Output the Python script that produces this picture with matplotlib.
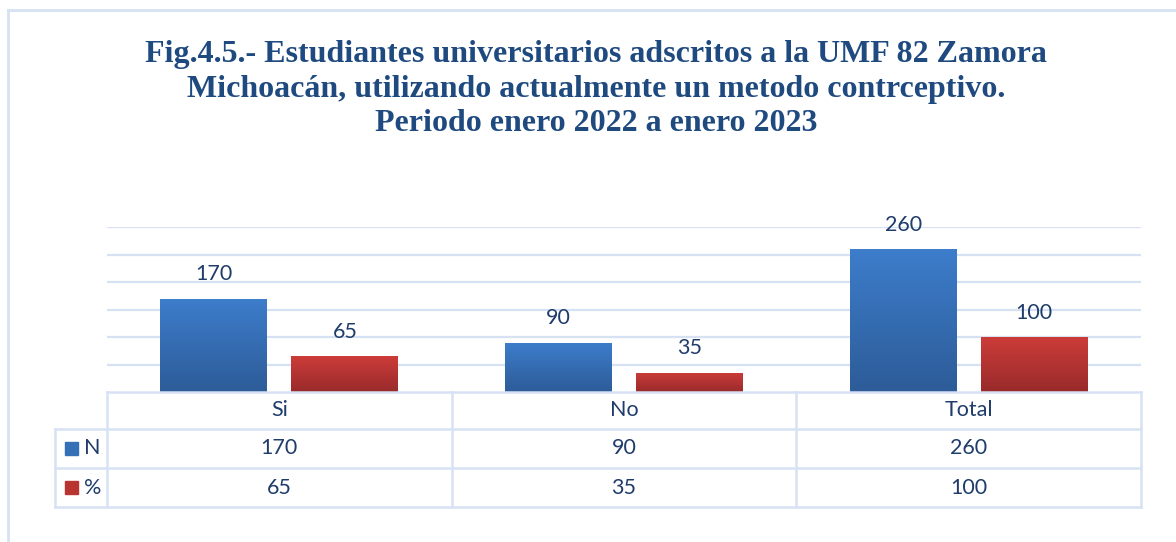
import matplotlib
matplotlib.use("Agg")
import matplotlib.pyplot as plt
import numpy as np
from matplotlib.lines import Line2D
from matplotlib.patches import Rectangle
import matplotlib.patheffects as pe
import matplotlib.transforms as mtransforms

# ---- data ----
categories = ["Si", "No", "Total"]
series_names = ["N", "%"]
n_values = [170, 90, 260]
pct_values = [65, 35, 100]

title = ("Fig.4.5.- Estudiantes universitarios adscritos a la UMF 82 Zamora\n"
         "Michoacán, utilizando actualmente un metodo contrceptivo.\n"
         "Periodo enero 2022 a enero 2023")

W, H = 1176, 542
fig = plt.figure(figsize=(W / 100, H / 100), dpi=100)
fig.patch.set_facecolor("white")

TXT = "#1f3c6b"
TITLE_C = "#1f4a80"
GRID = "#d6e2f3"
FONT = ["Lato", "DejaVu Sans"]

def fx(px):
    return px / W

def fy(py):
    return 1 - py / H

# outer frame (top and left visible)
fig.add_artist(Line2D([fx(8), fx(1180)], [fy(10), fy(10)], color=GRID, lw=2, transform=fig.transFigure))
fig.add_artist(Line2D([fx(8), fx(8)], [fy(10), fy(545)], color=GRID, lw=2, transform=fig.transFigure))

# title
fig.text(fx(596), fy(89), title, ha="center", va="center", fontsize=23.0,
         fontweight="bold", family=["Liberation Serif", "DejaVu Serif"],
         color=TITLE_C, linespacing=1.27)

# plot axes
x0, x1, ybot, ytop = 107, 1141, 392, 227
ax = fig.add_axes([fx(x0), fy(ybot), fx(x1) - fx(x0), fy(ytop) - fy(ybot)])
ax.set_xlim(-0.5, len(categories) - 0.5)
ax.set_ylim(0, 300)
ax.set_yticks(np.arange(50, 301, 50))
ax.grid(axis="y", color=GRID, lw=1.6)
ax.set_axisbelow(True)
for s in ax.spines.values():
    s.set_visible(False)
ax.tick_params(left=False, bottom=False, labelleft=False, labelbottom=False)

x = np.arange(len(categories))
width = 0.31
offset = 0.19

def gradient_bars(bars, top_c, bot_c):
    top = np.array(matplotlib.colors.to_rgb(top_c))
    bot = np.array(matplotlib.colors.to_rgb(bot_c))
    t = np.linspace(0, 1, 64)[:, None]
    img = (top * (1 - t) + bot * t)[:, None, :]
    for b in bars:
        bx, by = b.get_x(), b.get_y()
        bw, bh = b.get_width(), b.get_height()
        im = ax.imshow(img, extent=[bx, bx + bw, by, by + bh], aspect="auto",
                       origin="upper", zorder=3, interpolation="bilinear")
        im.set_clip_path(b)
    ax.set_xlim(-0.5, len(categories) - 0.5)
    ax.set_ylim(0, 300)

shadow = [pe.SimplePatchShadow(offset=(0, -2), shadow_rgbFace="#888888", alpha=0.35), pe.Normal()]
b1 = ax.bar(x - offset, n_values, width, color="#3470b5", zorder=2, path_effects=shadow)
b2 = ax.bar(x + offset, pct_values, width, color="#b83532", zorder=2, path_effects=shadow)
gradient_bars(b1, "#3d7dcb", "#2d5c98")
gradient_bars(b2, "#cc3c39", "#992b2b")

FS = 15.5
for bars, vals in ((b1, n_values), (b2, pct_values)):
    for b, v in zip(bars, vals):
        ax.annotate(f"{v}", (b.get_x() + b.get_width() / 2, v), xytext=(0, 17.5),
                    textcoords="offset points", ha="center", va="center",
                    fontsize=FS, family=FONT, color=TXT, zorder=5)

# ---- data table ----
blend = mtransforms.blended_transform_factory(ax.transData, fig.transFigure)
leg_x = 55
rows_y = [392, 429, 468, 507]
lw = 1.8
fig.add_artist(Line2D([fx(x0), fx(x1)], [fy(rows_y[0])] * 2, color=GRID, lw=lw, transform=fig.transFigure))
for ry in rows_y[1:]:
    fig.add_artist(Line2D([fx(leg_x), fx(x1)], [fy(ry)] * 2, color=GRID, lw=lw, transform=fig.transFigure))
fig.add_artist(Line2D([fx(leg_x)] * 2, [fy(rows_y[1]), fy(rows_y[3])], color=GRID, lw=lw, transform=fig.transFigure))
for bx in np.arange(len(categories) + 1) - 0.5:
    fig.add_artist(Line2D([bx, bx], [fy(rows_y[0]), fy(rows_y[3])], color=GRID, lw=lw, transform=blend))

row_c = [(rows_y[i] + rows_y[i + 1]) / 2 for i in range(3)]
for i, c in enumerate(categories):
    fig.text(x[i], fy(row_c[0]), c, transform=blend, ha="center", va="center",
             fontsize=FS, family=FONT, color=TXT)
    fig.text(x[i], fy(row_c[1]), f"{n_values[i]}", transform=blend, ha="center", va="center",
             fontsize=FS, family=FONT, color=TXT)
    fig.text(x[i], fy(row_c[2]), f"{pct_values[i]}", transform=blend, ha="center", va="center",
             fontsize=FS, family=FONT, color=TXT)

for name, col, ry in ((series_names[0], "#3470b5", row_c[1]), (series_names[1], "#b83532", row_c[2])):
    fig.add_artist(Rectangle((fx(65), fy(ry + 6.5)), fx(13), fy(0) - fy(13), color=col,
                             transform=fig.transFigure))
    fig.text(fx(84), fy(ry), name, ha="left", va="center", fontsize=FS, family=FONT, color=TXT)

fig.savefig("out.png", dpi=100, facecolor="white")
